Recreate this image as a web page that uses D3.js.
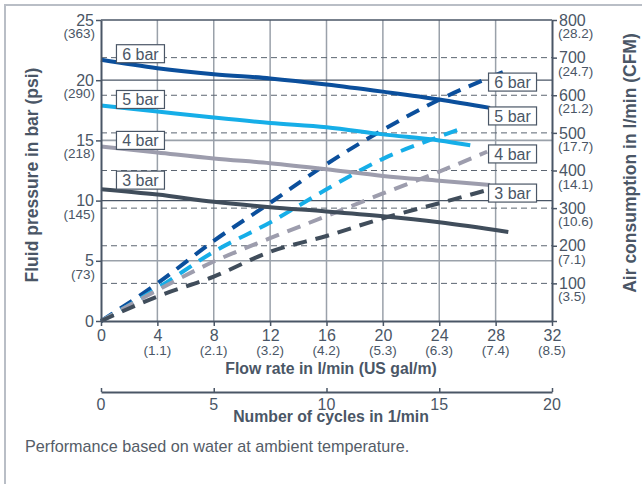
<!DOCTYPE html>
<html>
<head>
	<title>Pump performance chart</title>
	<script src="https://d3js.org/d3.v7.min.js"></script>
	<style>
		body{ margin: 0; background: #fff; }
		svg{ display: block; font-family: "Liberation Sans", Arial, sans-serif; }
		.tick text{ fill: #4a5666; }
	</style>
</head>
<body>
	<script>
		// axis ticks
		const flowTicks = [0, 4, 8, 12, 16, 20, 24, 28, 32]
		const galLabels = ['', '(1.1)', '(2.1)', '(3.2)', '(4.2)', '(5.3)', '(6.3)', '(7.4)', '(8.5)']
		const pressTicks = [0, 5, 10, 15, 20, 25]
		const psiLabels = ['', '(73)', '(145)', '(218)', '(290)', '(363)']
		const airTicks = [100, 200, 300, 400, 500, 600, 700, 800]
		const cfmLabels = ['(3.5)', '(7.1)', '(10.6)', '(14.1)', '(17.7)', '(21.2)', '(24.7)', '(28.2)']
		const cycleTicks = [0, 5, 10, 15, 20]

		// series: [flow l/min, value]
		const levels = ['6 bar', '5 bar', '4 bar', '3 bar']
		const pressure6 = [[0, 21.7], [4, 21.0], [8, 20.5], [12, 20.15], [16, 19.65], [20, 19.05], [24, 18.4], [27.6, 17.7]]
		const pressure5 = [[0, 17.9], [4, 17.4], [8, 16.9], [12, 16.45], [16, 16.1], [20, 15.5], [24, 15.0], [26.2, 14.6]]
		const pressure4 = [[0, 14.5], [4, 14.0], [8, 13.5], [12, 13.1], [16, 12.6], [20, 12.05], [24, 11.65], [27.6, 11.3]]
		const pressure3 = [[0, 10.95], [4, 10.5], [8, 9.9], [12, 9.45], [16, 9.1], [20, 8.7], [24, 8.2], [28.9, 7.4]]
		const air6 = [[0, 0], [4, 100], [8, 213], [12, 314], [16, 417], [20, 508], [24, 588], [29.1, 670]]
		const air5 = [[0, 0], [4, 87], [8, 184], [12, 262], [16, 350], [20, 431], [24, 490], [25.7, 513]]
		const air4 = [[0, 0], [4, 82], [8, 158], [12, 220], [16, 279], [20, 339], [24, 397], [27.4, 450]]
		const air3 = [[0, 0], [4, 65], [8, 118], [12, 184], [16, 226], [20, 273], [24, 313], [27.4, 348]]
		// label box positions: left in bar, right in l/min air
		const leftLabelAt = [22.2, 18.4, 15.0, 11.7]
		const rightLabelAt = [635, 545, 444, 340]

		const colors = ['#0b4f9c', '#16aee8', '#9d9dad', '#404d5b']
		const ink = '#4a5666'

		const W = 642, H = 484
		const plot = {left: 101, top: 20, right: 552, bottom: 321}

		const svg = d3.select('body').append('svg')
					  .attr('width', W)
					  .attr('height', H)

		// outer frame
		svg.append('rect')
		   .attr('x', 5).attr('y', 5)
		   .attr('width', W + 10).attr('height', H + 10)
		   .attr('fill', 'none')
		   .attr('stroke', '#b9bec6')
		   .attr('stroke-width', 2)

		const x = d3.scaleLinear().domain([0, 32]).range([plot.left, plot.right])
		const yP = d3.scaleLinear().domain([0, 25]).range([plot.bottom, plot.top])
		const yA = d3.scaleLinear().domain([0, 800]).range([plot.bottom, plot.top])
		const xC = d3.scaleLinear().domain([0, 20]).range([plot.left, plot.right])

		const grid = svg.append('g')
		// vertical grid
		grid.selectAll('.vg').data(flowTicks.slice(1, -1)).enter()
			.append('line')
			.attr('x1', d => x(d)).attr('x2', d => x(d))
			.attr('y1', plot.top).attr('y2', plot.bottom)
			.attr('stroke', '#9aa1aa').attr('stroke-width', 1.5)
		// dashed air grid
		grid.selectAll('.ag').data(airTicks.slice(0, -1)).enter()
			.append('line')
			.attr('x1', plot.left).attr('x2', plot.right)
			.attr('y1', d => yA(d)).attr('y2', d => yA(d))
			.attr('stroke', '#5c6672').attr('stroke-width', 1)
			.attr('stroke-dasharray', '6,4')
		// solid pressure grid
		grid.selectAll('.pg').data(pressTicks.slice(1, -1)).enter()
			.append('line')
			.attr('x1', plot.left).attr('x2', plot.right)
			.attr('y1', d => yP(d)).attr('y2', d => yP(d))
			.attr('stroke', d => d % 10 === 0 ? '#4a5666' : '#9aa1aa')
			.attr('stroke-width', d => d % 10 === 0 ? 1.2 : 1.6)
		// top border
		grid.append('line')
			.attr('x1', plot.left).attr('x2', plot.right)
			.attr('y1', plot.top).attr('y2', plot.top)
			.attr('stroke', ink).attr('stroke-width', 1.5)

		const line = d3.line().curve(d3.curveMonotoneX)

		// dashed air consumption lines
		const airSeries = [air6, air5, air4, air3]
		svg.append('g').selectAll('path').data(airSeries).enter()
		   .append('path')
		   .attr('d', s => line(s.map(p => [x(p[0]), yA(p[1])])))
		   .attr('fill', 'none')
		   .attr('stroke', (s, i) => colors[i])
		   .attr('stroke-width', 4)
		   .attr('stroke-dasharray', '14,9')

		// solid pressure lines
		const pressSeries = [pressure6, pressure5, pressure4, pressure3]
		svg.append('g').selectAll('path').data(pressSeries).enter()
		   .append('path')
		   .attr('d', s => line(s.map(p => [x(p[0]), yP(p[1])])))
		   .attr('fill', 'none')
		   .attr('stroke', (s, i) => colors[i])
		   .attr('stroke-width', 4)

		// axes
		const styleAxis = (g, size) => {
			g.select('.domain').attr('stroke', ink).attr('stroke-width', 2)
			g.selectAll('.tick line').attr('stroke', ink).attr('stroke-width', 1.5)
			g.selectAll('.tick text').style('font-size', size + 'px')
		}
		svg.append('g')
		   .attr('transform', 'translate(' + plot.left + ',0)')
		   .call(d3.axisLeft(yP).tickValues(pressTicks).tickSize(5).tickPadding(2).tickSizeOuter(0))
		   .call(g => styleAxis(g, 16))
		svg.append('g')
		   .attr('transform', 'translate(' + plot.right + ',0)')
		   .call(d3.axisRight(yA).tickValues([0].concat(airTicks)).tickSize(5).tickPadding(2).tickSizeOuter(0)
		   .tickFormat(d => d === 0 ? '' : d))
		   .call(g => styleAxis(g, 16))
		svg.append('g')
		   .attr('transform', 'translate(0,' + plot.bottom + ')')
		   .call(d3.axisBottom(x).tickValues(flowTicks).tickSize(5).tickPadding(4).tickSizeOuter(0))
		   .call(g => styleAxis(g, 16))
		svg.append('g')
		   .attr('transform', 'translate(0,392)')
		   .call(d3.axisTop(xC).tickValues(cycleTicks).tickSize(4).tickSizeOuter(0).tickFormat(''))
		   .call(g => styleAxis(g, 16))
		svg.append('g').selectAll('text').data(cycleTicks).enter()
		   .append('text')
		   .attr('x', d => xC(d)).attr('y', 410)
		   .attr('text-anchor', 'middle')
		   .style('font-size', '16px').attr('fill', ink)
		   .text(d => d)

		// secondary unit labels
		svg.append('g').selectAll('text').data(pressTicks).enter()
		   .append('text')
		   .attr('x', plot.left - 6).attr('y', d => yP(d) + 18)
		   .attr('text-anchor', 'end')
		   .style('font-size', '13.5px').attr('fill', ink)
		   .text((d, i) => psiLabels[i])
		svg.append('g').selectAll('text').data(airTicks).enter()
		   .append('text')
		   .attr('x', plot.right + 6).attr('y', d => yA(d) + 18)
		   .style('font-size', '13.5px').attr('fill', ink)
		   .text((d, i) => cfmLabels[i])
		svg.append('g').selectAll('text').data(flowTicks).enter()
		   .append('text')
		   .attr('x', d => x(d)).attr('y', 355)
		   .attr('text-anchor', 'middle')
		   .style('font-size', '13.5px').attr('fill', ink)
		   .text((d, i) => galLabels[i])

		// axis titles
		const title = (t, tx, ty, rot, size) => svg.append('text')
			.attr('transform', 'translate(' + tx + ',' + ty + ') rotate(' + rot + ')')
			.attr('text-anchor', 'middle')
			.style('font-size', size + 'px').style('font-weight', 'bold')
			.attr('fill', ink)
			.text(t)
		title('Fluid pressure in bar (psi)', 38, 175, -90, 17.5)
		title('Air consumption in l/min (CFM)', 636, 163, -90, 17.5)
		title('Flow rate in l/min (US gal/m)', 331, 374, 0, 15.8)
		title('Number of cycles in 1/min', 331, 422, 0, 15.8)

		svg.append('text')
		   .attr('x', 25).attr('y', 452)
		   .style('font-size', '16.2px').attr('fill', '#555d68')
		   .text('Performance based on water at ambient temperature.')

		// series label boxes
		const box = (t, cx, cy) => {
			const g = svg.append('g').attr('transform', 'translate(' + cx + ',' + cy + ')')
			g.append('rect')
			 .attr('x', -24).attr('y', -9).attr('width', 48).attr('height', 18)
			 .attr('fill', '#fff').attr('stroke', ink).attr('stroke-width', 1.2)
			g.append('text')
			 .attr('text-anchor', 'middle').attr('y', 6)
			 .style('font-size', '16px').attr('fill', ink)
			 .text(t)
		}
		levels.forEach((t, i) => {
			box(t, x(2.8), yP(leftLabelAt[i]))
			box(t, x(29.2), yA(rightLabelAt[i]))
		})
	</script>
</body>
</html>
